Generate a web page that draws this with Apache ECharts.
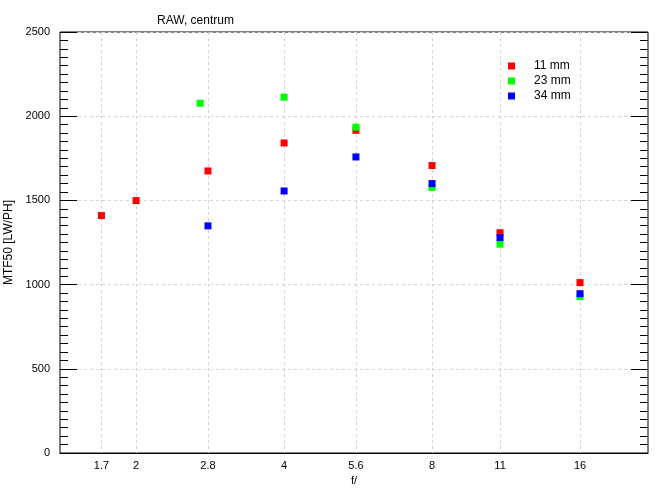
<!DOCTYPE html>
<html>
<head>
<meta charset="utf-8">
<script src="https://cdn.jsdelivr.net/npm/echarts@6/dist/echarts.min.js"></script>
<style>html,body{margin:0;padding:0;background:#fff}#c{width:670px;height:490px}</style>
</head>
<body>
<div id="c"></div>
<script>
const fTicks = [1.7, 2, 2.8, 4, 5.6, 8, 11, 16];
const yTicks = [0, 500, 1000, 1500, 2000, 2500];
const seriesNames = ['11 mm', '23 mm', '34 mm'];
const f11 = [1.7, 2, 2.8, 4, 5.6, 8, 11, 16];
const v11 = [1410, 1499, 1675, 1841, 1916, 1707, 1308, 1012];
const f23 = [2.7, 4, 5.6, 8, 11, 16];
const v23 = [2077, 2113, 1935, 1577, 1240, 929];
const f34 = [2.8, 4, 5.6, 8, 11, 16];
const v34 = [1349, 1556, 1758, 1600, 1279, 946];
const colors = ['#ff0000', '#00ff00', '#0000ff'];

const FONT = 'Liberation Sans, Arial, sans-serif';
const pairs = (xs, ys) => xs.map((x, i) => [x, ys[i]]);
const dataSets = [pairs(f11, v11), pairs(f23, v23), pairs(f34, v34)];

const yAxisBase = {
  type: 'value', min: 0, max: 2500, interval: 500,
  axisLine: { show: false },
  axisTick: { show: true, inside: true, length: 17, lineStyle: { color: '#000', width: 1 } },
  minorTick: { show: true, splitNumber: 10, length: 8, lineStyle: { color: '#000', width: 1 } },
  splitLine: { show: false }
};

const chart = echarts.init(document.getElementById('c'), null, { renderer: 'canvas' });
chart.setOption({
  animation: false,
  backgroundColor: '#fff',
  textStyle: { fontFamily: FONT },
  title: {
    text: 'RAW, centrum', left: 152, top: 10,
    textStyle: { fontFamily: FONT, fontSize: 12, fontWeight: 'normal', color: '#000' }
  },
  legend: {
    orient: 'vertical', left: 503, top: 55, itemGap: 3,
    itemWidth: 7, itemHeight: 7, icon: 'rect',
    data: seriesNames,
    textStyle: { fontFamily: FONT, fontSize: 12, color: '#000', padding: [0, 0, 0, 14] }
  },
  grid: {
    left: 60, right: 22, top: 32, bottom: 37,
    containLabel: false, outerBoundsMode: 'none',
    show: true, borderColor: '#000', borderWidth: 1, backgroundColor: 'transparent'
  },
  xAxis: {
    type: 'log', logBase: 2, min: 1.4, max: 22,
    name: 'f/', nameLocation: 'middle', nameGap: 19,
    nameTextStyle: { fontFamily: FONT, fontSize: 11, color: '#000' },
    axisLine: { show: true, lineStyle: { color: '#000', width: 1 } },
    axisTick: { show: false, customValues: fTicks },
    axisLabel: {
      customValues: fTicks, margin: 7,
      fontFamily: FONT, fontSize: 11, color: '#000',
      formatter: v => String(+(+v).toFixed(1))
    },
    splitLine: { show: true, lineStyle: { color: '#d4d4d4', type: [3, 3], width: 1 } },
    minorTick: { show: false }, minorSplitLine: { show: false }
  },
  yAxis: [
    Object.assign({}, yAxisBase, {
      position: 'left',
      name: 'MTF50 [LW/PH]', nameLocation: 'middle', nameGap: 44,
      nameTextStyle: { fontFamily: FONT, fontSize: 12, color: '#000' },
      axisLabel: { show: true, margin: 10, fontFamily: FONT, fontSize: 11, color: '#000',
        customValues: yTicks, formatter: v => String(v) },
      splitLine: { show: true, lineStyle: { color: '#d4d4d4', type: [3, 3], width: 1 } }
    }),
    Object.assign({}, yAxisBase, {
      position: 'right',
      axisLabel: { show: false }
    })
  ],
  series: seriesNames.map((n, i) => ({
    name: n, type: 'scatter', symbol: 'rect', symbolSize: 7,
    xAxisIndex: 0, yAxisIndex: 0,
    itemStyle: { color: colors[i], opacity: 1 },
    data: dataSets[i],
    z: 2 + i
  }))
});
</script>
</body>
</html>
